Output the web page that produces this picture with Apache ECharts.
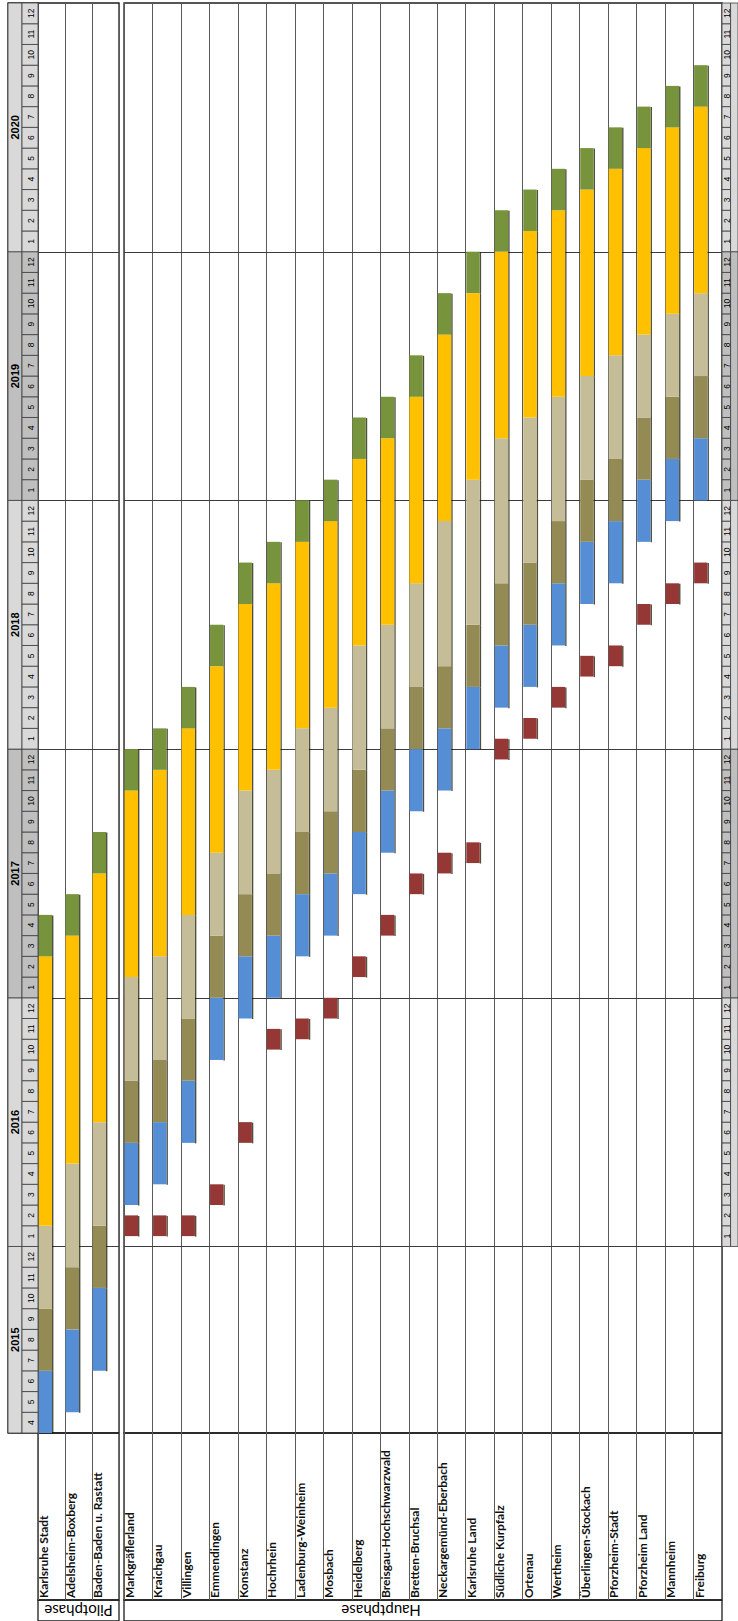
<!DOCTYPE html>
<html>
<head>
<meta charset="utf-8">
<script src="https://cdn.jsdelivr.net/npm/echarts@6/dist/echarts.min.js"></script>
<style>
  html, body { margin: 0; padding: 0; background: #fff; }
  #chart { width: 738px; height: 1621px; }
</style>
</head>
<body>
<div id="chart"></div>
<script>
// Zeitachse in Monaten ab Anfang April 2015 (0) bis Ende Dezember 2020 (69)
const years = [2015, 2016, 2017, 2018, 2019, 2020]
const yearStart = [0, 9, 21, 33, 45, 57]
const yearEnd = [9, 21, 33, 45, 57, 69]
const firstMonth = 4

const pilotRegions = ['Karlsruhe Stadt', 'Adelsheim-Boxberg', 'Baden-Baden u. Rastatt']
const mainRegions = ['Markgräflerland', 'Kraichgau', 'Villingen', 'Emmendingen', 'Konstanz', 'Hochrhein',
  'Ladenburg-Weinheim', 'Mosbach', 'Heidelberg', 'Breisgau-Hochschwarzwald', 'Bretten-Bruchsal',
  'Neckargemünd-Eberbach', 'Karlsruhe Land', 'Südliche Kurpfalz', 'Ortenau', 'Wertheim',
  'Überlingen-Stockach', 'Pforzheim-Stadt', 'Pforzheim Land', 'Mannheim', 'Freiburg']
const phaseNames = ['Pilotphase', 'Hauptphase']

// Beginn jeder Phase (Monatsindex); eine Phase endet, wo die naechste beginnt
const pilotBlue = [0, 1, 3]
const pilotOlive = [3, 5, 7]
const pilotKhaki = [6, 8, 10]
const pilotYellow = [10, 13, 15]
const pilotGreen = [23, 24, 27]
const pilotEnd = [25, 26, 29]

const mainRed = [9.5, 9.5, 9.5, 11, 14, 18.5, 19, 20, 22, 24, 26, 27, 27.5, 32.5, 33.5, 35, 36.5, 37, 39, 40, 41]
const mainBlue = [11, 12, 14, 18, 20, 21, 23, 24, 26, 28, 30, 31, 33, 35, 36, 38, 40, 41, 43, 44, 45]
const mainOlive = [14, 15, 17, 21, 23, 24, 26, 27, 29, 31, 33, 34, 36, 38, 39, 41, 43, 44, 46, 47, 48]
const mainKhaki = [17, 18, 20, 24, 26, 27, 29, 30, 32, 34, 36, 37, 39, 41, 42, 44, 46, 47, 49, 50, 51]
const mainYellow = [22, 23, 25, 28, 31, 32, 34, 35, 38, 39, 41, 44, 46, 48, 49, 50, 51, 52, 53, 54, 55]
const mainGreen = [31, 32, 34, 37, 40, 41, 43, 44, 47, 48, 50, 53, 55, 57, 58, 59, 60, 61, 62, 63, 64]
const mainEnd = [33, 34, 36, 39, 42, 43, 45, 46, 49, 50, 52, 55, 57, 59, 60, 61, 62, 63, 64, 65, 66]
const redLength = 1

const colors = ['#953735', '#558ed5', '#948a54', '#c4bd97', '#ffc000', '#77933c']
const shade = ['#d9d9d9', '#d9d9d9', '#bfbfbf', '#d9d9d9', '#bfbfbf', '#d9d9d9']
const labelFont = 'Lato, "Liberation Sans", sans-serif'

function buildSegments (red, blue, olive, khaki, yellow, green, end) {
  const out = []
  blue.forEach((b, i) => {
    if (red) out.push([i, red[i], red[i] + redLength, 0])
    out.push([i, b, olive[i], 1])
    out.push([i, olive[i], khaki[i], 2])
    out.push([i, khaki[i], yellow[i], 3])
    out.push([i, yellow[i], green[i], 4])
    out.push([i, green[i], end[i], 5])
  })
  return out
}
const pilotData = buildSegments(null, pilotBlue, pilotOlive, pilotKhaki, pilotYellow, pilotGreen, pilotEnd)
const mainData = buildSegments(mainRed, mainBlue, mainOlive, mainKhaki, mainYellow, mainGreen, mainEnd)

// Kopfzellen (Jahr / Monat); rechts ab 2016 und ohne Jahresbeschriftung (liegt ausserhalb)
function buildCells (monthX, yearX, fromYear, withYear) {
  const cells = []
  years.forEach((y, k) => {
    if (k < fromYear) return
    cells.push({ x0: yearX[0], x1: yearX[1], t0: yearStart[k], t1: yearEnd[k], text: withYear ? String(y) : '', fill: shade[k], year: true })
    for (let t = yearStart[k]; t < yearEnd[k]; t++) {
      const m = ((t + firstMonth - 1) % 12) + 1
      cells.push({ x0: monthX[0], x1: monthX[1], t0: t, t1: t + 1, text: String(m), fill: shade[k], year: false })
    }
  })
  return cells
}
const leftCells = buildCells([14, 30], [0, 14], 0, true)
const rightCells = buildCells([0, 16], [16, 30], 1, false)

function renderBar (params, api) {
  const row = api.value(0)
  const p0 = api.coord([row, api.value(1)])
  const p1 = api.coord([row, api.value(2)])
  const cell = api.size([1, 0])[0]
  const x = p0[0] - cell / 2 + 0.6
  const w = 13.4
  const h = p0[1] - p1[1]
  return {
    type: 'group',
    children: [
      { type: 'rect', shape: { x: x + w, y: p1[1] + 0.5, width: 1.4, height: h }, style: { fill: 'rgba(20,20,0,0.75)' } },
      { type: 'rect', shape: { x: x, y: p1[1], width: w, height: h }, style: { fill: colors[api.value(3)] } }
    ]
  }
}

function renderYearLine (params, api) {
  const p = api.coord([0, api.value(0)])
  const cs = params.coordSys
  return {
    type: 'line',
    shape: { x1: cs.x, y1: Math.round(p[1]) + 0.5, x2: cs.x + cs.width, y2: Math.round(p[1]) + 0.5 },
    style: { stroke: '#3c3c3c', lineWidth: 1 }
  }
}

function cellRenderer (cells) {
  return function (params, api) {
    const c = cells[params.dataIndex]
    const a = api.coord([c.x0, c.t0])
    const b = api.coord([c.x1, c.t1])
    const children = [
      { type: 'rect', shape: { x: a[0], y: b[1], width: b[0] - a[0], height: a[1] - b[1] }, style: { fill: c.fill, stroke: '#3c3c3c', lineWidth: 0.8 } }
    ]
    if (c.text) {
      children.push({
        type: 'text',
        x: (a[0] + b[0]) / 2 + (c.year ? 0 : 0.5),
        y: (a[1] + b[1]) / 2,
        rotation: Math.PI / 2,
        style: {
          text: c.text,
          align: 'center',
          verticalAlign: 'middle',
          fontFamily: '"Liberation Sans", Arial, sans-serif',
          fontSize: c.year ? 11 : 8.5,
          fontWeight: c.year ? 'bold' : 'normal',
          fill: '#000'
        }
      })
    }
    return { type: 'group', children: children }
  }
}

function renderRegionLabel (names) {
  return function (params, api) {
    const p = api.coord([api.value(0), 0])
    const cell = api.size([1, 0])[0]
    return {
      type: 'text',
      x: p[0] - cell / 2 - 0.5,
      y: p[1] - 2,
      rotation: Math.PI / 2,
      style: {
        text: names[params.dataIndex],
        align: 'left',
        verticalAlign: 'top',
        fontFamily: labelFont,
        fontSize: 12,
        fontWeight: 'bold',
        fill: '#111'
      }
    }
  }
}

function phaseRenderer (name) {
  return function (params, api) {
    const p = api.coord([api.value(0), 0.5])
    return {
      type: 'text',
      x: p[0],
      y: p[1],
      rotation: Math.PI,
      style: {
        text: name,
        align: 'center',
        verticalAlign: 'middle',
        fontFamily: labelFont,
        fontSize: 15,
        fill: '#000'
      }
    }
  }
}

const border = { show: true, borderColor: '#1e1e1e', borderWidth: 1.3, backgroundColor: 'transparent' }
const grids = [
  Object.assign({ left: 38, top: 3, width: 81, height: 1430 }, border),
  Object.assign({ left: 124, top: 3, width: 598, height: 1430 }, border),
  Object.assign({ left: 8, top: 3, width: 30, height: 1430 }, border),
  { left: 722, top: 3, width: 30, height: 1430 },
  Object.assign({ left: 38, top: 1433, width: 81, height: 167 }, border),
  Object.assign({ left: 124, top: 1433, width: 598, height: 167 }, border),
  Object.assign({ left: 38, top: 1600, width: 81, height: 24 }, border),
  Object.assign({ left: 124, top: 1600, width: 598, height: 24 }, border)
]

const hidden = { axisLine: { show: false }, axisTick: { show: false }, axisLabel: { show: false } }
function catAxis (idx, names) {
  return Object.assign({
    type: 'category', gridIndex: idx, data: names, boundaryGap: true,
    splitLine: { show: true, interval: 0, lineStyle: { color: '#5a5a5a', width: 1 } }
  }, hidden)
}
function valAxis (idx, min, max) {
  return Object.assign({ type: 'value', gridIndex: idx, min: min, max: max, splitLine: { show: false } }, hidden)
}

const option = {
  animation: false,
  backgroundColor: '#fff',
  grid: grids,
  xAxis: [
    catAxis(0, pilotRegions), catAxis(1, mainRegions),
    valAxis(2, 0, 30), valAxis(3, 0, 30),
    catAxis(4, pilotRegions), catAxis(5, mainRegions),
    valAxis(6, 0, 1), valAxis(7, 0, 1)
  ],
  yAxis: [
    valAxis(0, 0, 69), valAxis(1, 0, 69),
    valAxis(2, 0, 69), valAxis(3, 0, 69),
    valAxis(4, 0, 1), valAxis(5, 0, 1),
    valAxis(6, 0, 1), valAxis(7, 0, 1)
  ],
  series: [
    { type: 'custom', name: 'yearsPilot', xAxisIndex: 0, yAxisIndex: 0, renderItem: renderYearLine, data: yearStart.slice(1).map(v => [v]), encode: { y: 0 }, z: 1, silent: true },
    { type: 'custom', name: 'yearsMain', xAxisIndex: 1, yAxisIndex: 1, renderItem: renderYearLine, data: yearStart.slice(1).map(v => [v]), encode: { y: 0 }, z: 1, silent: true },
    { type: 'custom', name: 'pilot', xAxisIndex: 0, yAxisIndex: 0, renderItem: renderBar, data: pilotData, encode: { x: 0, y: 1 }, z: 2 },
    { type: 'custom', name: 'main', xAxisIndex: 1, yAxisIndex: 1, renderItem: renderBar, data: mainData, encode: { x: 0, y: 1 }, z: 2 },
    { type: 'custom', name: 'headLeft', xAxisIndex: 2, yAxisIndex: 2, renderItem: cellRenderer(leftCells), data: leftCells.map(c => [c.x0, c.t0]), encode: { x: 0, y: 1 }, silent: true },
    { type: 'custom', name: 'headRight', xAxisIndex: 3, yAxisIndex: 3, renderItem: cellRenderer(rightCells), data: rightCells.map(c => [c.x0, c.t0]), encode: { x: 0, y: 1 }, silent: true },
    { type: 'custom', name: 'labelsPilot', xAxisIndex: 4, yAxisIndex: 4, renderItem: renderRegionLabel(pilotRegions), data: pilotRegions.map((r, i) => [i, 0]), encode: { x: 0, y: 1 }, silent: true },
    { type: 'custom', name: 'labelsMain', xAxisIndex: 5, yAxisIndex: 5, renderItem: renderRegionLabel(mainRegions), data: mainRegions.map((r, i) => [i, 0]), encode: { x: 0, y: 1 }, silent: true },
    { type: 'custom', name: 'phasePilot', xAxisIndex: 6, yAxisIndex: 6, renderItem: phaseRenderer(phaseNames[0]), data: [[0.5]], encode: { x: 0 }, silent: true },
    { type: 'custom', name: 'phaseMain', xAxisIndex: 7, yAxisIndex: 7, renderItem: phaseRenderer(phaseNames[1]), data: [[0.43]], encode: { x: 0 }, silent: true }
  ]
}

const chart = echarts.init(document.getElementById('chart'), null, { renderer: 'svg' })
chart.setOption(option)
</script>
</body>
</html>
